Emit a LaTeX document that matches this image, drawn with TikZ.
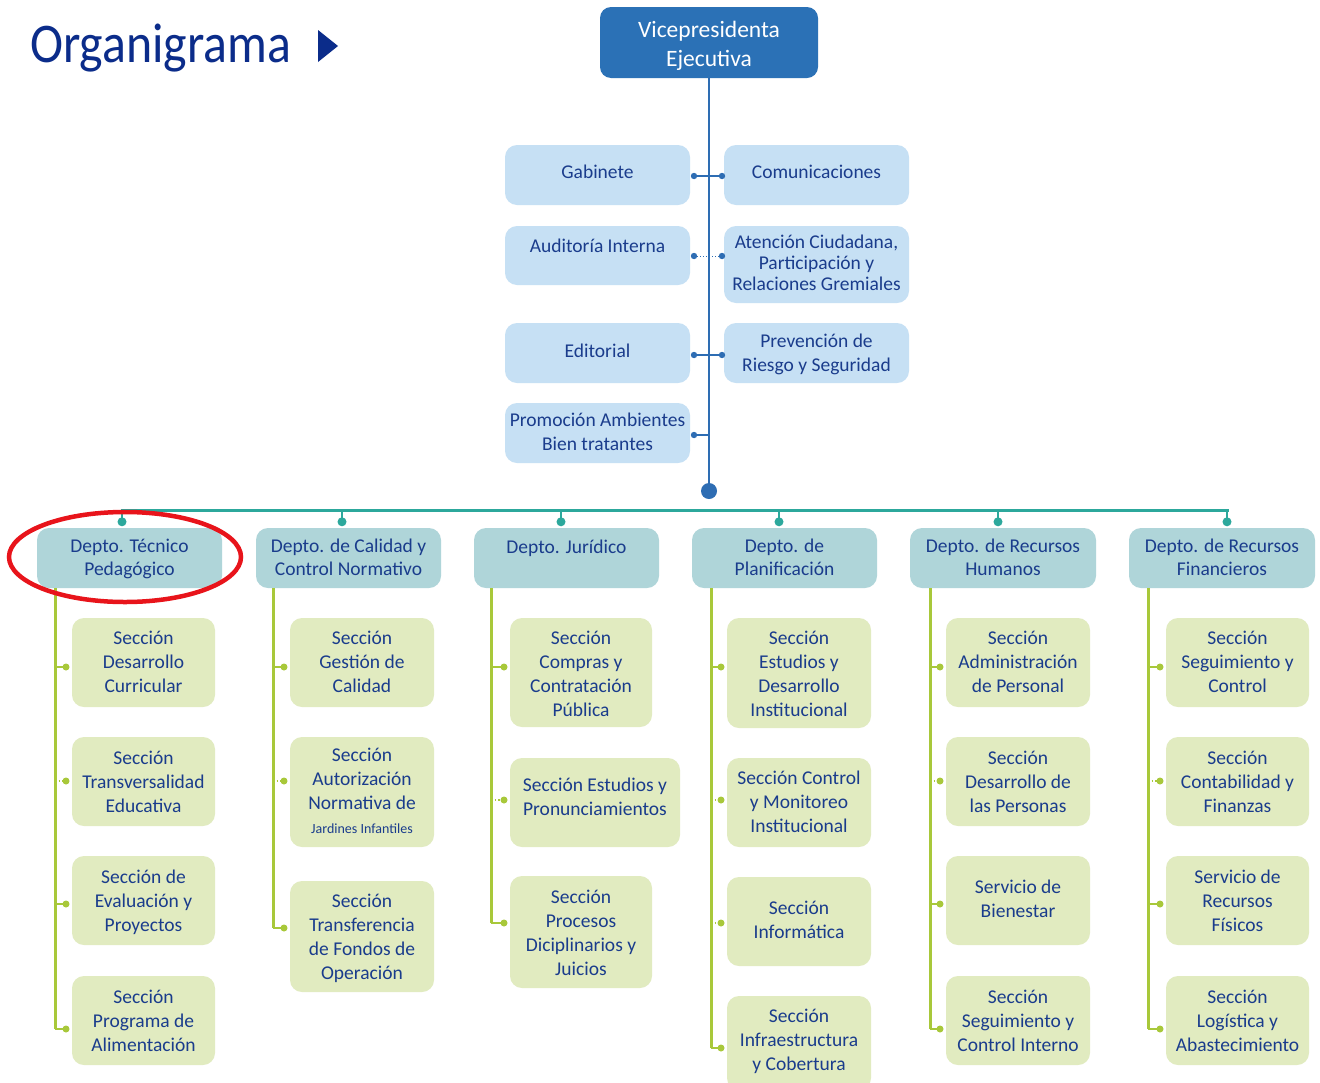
\documentclass[tikz,border=0pt]{standalone}
\usepackage{fontspec}
\setmainfont{Carlito}
\definecolor{titleblue}{HTML}{0B2C8A}
\definecolor{txtblue}{HTML}{1A3C8C}
\definecolor{vpblue}{HTML}{2B71B6}
\definecolor{lineblue}{HTML}{2E6DB3}
\definecolor{stafffill}{HTML}{C6E0F4}
\definecolor{tealc}{HTML}{2CA89C}
\definecolor{deptfill}{HTML}{AFD5D9}
\definecolor{greenc}{HTML}{A8C83A}
\definecolor{secfill}{HTML}{E1EBC0}
\definecolor{redring}{HTML}{E8141B}
\tikzset{
  boxbase/.style={draw=none, rounded corners=12pt, inner sep=0pt},
  vp/.style={boxbase, fill=vpblue, rounded corners=11pt},
  vptxt/.style={text=white, align=center, inner sep=0pt, font=\fontsize{23.5}{29}\selectfont, yshift=-4pt,
    execute at begin node=\strut, execute at end node=\strut},
  staff/.style={boxbase, fill=stafffill},
  stafftxt/.style={text=txtblue, align=center, inner sep=0pt, font=\fontsize{19.5}{24}\selectfont, yshift=-3pt,
    execute at begin node=\strut, execute at end node=\strut},
  dept/.style={boxbase, fill=deptfill},
  depttxt/.style={text=txtblue, align=center, inner sep=0pt, font=\fontsize{19.5}{23}\selectfont, yshift=-3pt,
    execute at begin node=\strut, execute at end node=\strut},
  sec/.style={boxbase, fill=secfill},
  sectxt/.style={text=txtblue, align=center, inner sep=0pt, font=\fontsize{19.5}{24}\selectfont, yshift=-3.5pt,
    execute at begin node=\strut, execute at end node=\strut},
  bline/.style={draw=lineblue, line width=2.5pt},
  bconn/.style={draw=lineblue, line width=2pt},
  bconndot/.style={draw=lineblue, line width=1pt, dotted},
  tline/.style={draw=tealc, line width=3pt},
  tdrop/.style={draw=tealc, line width=1.5pt},
  gline/.style={draw=greenc, line width=3pt},
  gconn/.style={draw=greenc, line width=2pt},
  gconndot/.style={draw=greenc, line width=1.5pt, dotted},
}
% #1 name, #2 style, #3 x1, #4 y1, #5 x2, #6 y2, #7 text y, #8 text
\newcommand\obox[8]{%
  \node[#2, minimum width={(#5-#3)*1pt}, minimum height={(#6-#4)*1pt}] (#1) at ({(#3+#5)/2},{(#4+#6)/2}) {};
  \node[#2txt] (#1t) at ({(#3+#5)/2},#7) {#8};
}
% section: #1 name, #2 x1, #3 y1, #4 x2, #5 y2, #6 text y, #7 connector y, #8 line coord, #9 text
\newcommand\secbox[9]{%
  \obox{#1}{sec}{#2}{#3}{#4}{#5}{#6}{#9}
  \coordinate (#1c) at ({#2-6},#7);
  \draw[gconn] (#8 |- #1c) -- (#1c);
  \fill[greenc] (#1c) circle (3.5);
}
\newcommand\secboxd[9]{%
  \obox{#1}{sec}{#2}{#3}{#4}{#5}{#6}{#9}
  \coordinate (#1c) at ({#2-6},#7);
  \draw[gconndot] (#8 |- #1c) -- (#1c);
  \fill[greenc] (#1c) circle (3.5);
}
\begin{document}
\begin{tikzpicture}[x=1pt,y=-1pt]
\useasboundingbox (0,0) rectangle (1320,1082);
\fill[white] (0,0) rectangle (1320,1082);

% title
\node[anchor=base west, inner sep=0pt, text=titleblue, font=\fontsize{56}{60}\selectfont, xscale=0.89] (title) at (30,62) {Organigrama};
\fill[titleblue] (318,30) -- (338,46) -- (318,62) -- cycle;

% top box
\obox{vp}{vp}{600}{7}{818}{78}{44}{Vicepresidenta\\Ejecutiva}
\coordinate (hub) at (709,491);
\draw[bline] (vp.south) -- (hub);
\fill[lineblue] (hub) circle (8);

% staff boxes
\obox{gab}{staff}{505}{145}{690}{205}{171}{Gabinete}
\obox{com}{staff}{724}{145}{909}{205}{171}{Comunicaciones}
\obox{aud}{staff}{505}{226}{690}{285}{245}{Auditoría Interna}
\node[staff, minimum width=185pt, minimum height=77pt] (ate) at (816.5,264.5) {};
\node[stafftxt, font=\fontsize{19.5}{21}\selectfont] (atet) at (816.5,263) {Atención Ciudadana,\\Participación y\\Relaciones Gremiales};
\obox{edi}{staff}{505}{323}{690}{383}{350}{Editorial}
\obox{pre}{staff}{724}{323}{909}{383}{353}{Prevención de\\Riesgo y Seguridad}
\obox{pro}{staff}{505}{403}{690}{463}{432}{Promoción Ambientes\\Bien tratantes}

% staff connectors
\coordinate (gabc) at (694,176); \coordinate (comc) at (722,176);
\coordinate (audc) at (694,256); \coordinate (atec) at (722,256);
\coordinate (edic) at (694,355); \coordinate (prec) at (722,355);
\coordinate (proc) at (694,435);
\draw[bconn] (gabc) -- (comc);
\draw[bconndot] (audc) -- (atec);
\draw[bconn] (edic) -- (prec);
\draw[bconn] (proc) -- (proc -| hub);
\foreach \c in {gabc,comc,audc,atec,edic,prec,proc} \fill[lineblue] (\c) circle (3.2);

% departments
\obox{d1}{dept}{37}{528}{222}{588}{558}{Depto. Técnico\\Pedagógico}
\obox{d2}{dept}{256}{528}{441}{588}{558}{Depto. de Calidad y\\Control Normativo}
\obox{d3}{dept}{474}{528}{659}{588}{546}{Depto. Jurídico}
\obox{d4}{dept}{692}{528}{877}{588}{558}{Depto. de\\Planificación}
\obox{d5}{dept}{910}{528}{1096}{588}{558}{Depto. de Recursos\\Humanos}
\obox{d6}{dept}{1129}{528}{1315}{588}{558}{Depto. de Recursos\\Financieros}

% teal bus
\coordinate (t1) at (122,510); \coordinate (t2) at (342,510); \coordinate (t3) at (561,510);
\coordinate (t4) at (779,510); \coordinate (t5) at (998,510); \coordinate (t6) at (1227,510);
\draw[tline] ([xshift=-1.5pt]t1) -- ([xshift=1.5pt]t6);
\foreach \i in {1,...,6} {
  \draw[tdrop] (t\i) -- ([yshift=6pt]t\i |- d\i.north);
  \fill[tealc] ([yshift=6pt]t\i |- d\i.north) circle (4.5);
}

% green department lines
\coordinate (g1) at (55,588); \coordinate (g2) at (273,588); \coordinate (g3) at (491,588);
\coordinate (g4) at (711,588); \coordinate (g5) at (930,588); \coordinate (g6) at (1148,588);

% column 1
\secbox{s11}{72}{618}{215}{707}{662}{667}{g1}{Sección\\Desarrollo\\Curricular}
\secboxd{s12}{72}{737}{215}{826}{782}{781}{g1}{Sección\\Transversalidad\\Educativa}
\secbox{s13}{72}{856}{215}{945}{901}{904}{g1}{Sección de\\Evaluación y\\Proyectos}
\secbox{s14}{72}{976}{215}{1065}{1021}{1029}{g1}{Sección\\Programa de\\Alimentación}
\draw[gline] (g1) -- (g1 |- s14c);
% column 2
\secbox{s21}{290}{618}{434}{707}{662}{667}{g2}{Sección\\Gestión de\\Calidad}
\secboxd{s22}{290}{737}{434}{847}{791}{781}{g2}{Sección\\Autorización\\Normativa de\\{\fontsize{14}{16}\selectfont Jardines Infantiles}}
\secbox{s23}{290}{881}{434}{992}{937}{928}{g2}{Sección\\Transferencia\\de Fondos de\\Operación}
\draw[gline] (g2) -- (g2 |- s23c);
% column 3
\secbox{s31}{510}{618}{652}{727}{674}{667}{g3}{Sección\\Compras y\\Contratación\\Pública}
\secboxd{s32}{510}{758}{680}{847}{797}{800}{g3}{Sección Estudios y\\Pronunciamientos}
\secbox{s33}{510}{876}{652}{988}{933}{923}{g3}{Sección\\Procesos\\Diciplinarios y\\Juicios}
\draw[gline] (g3) -- (g3 |- s33c);
% column 4
\secbox{s41}{727}{618}{871}{728}{674}{667}{g4}{Sección\\Estudios y\\Desarrollo\\Institucional}
\secboxd{s42}{727}{758}{871}{847}{802}{800}{g4}{Sección Control\\y Monitoreo\\Institucional}
\secboxd{s43}{727}{877}{871}{966}{920}{923}{g4}{Sección\\Informática}
\secbox{s44}{727}{996}{871}{1090}{1040}{1048}{g4}{Sección\\Infraestructura\\y Cobertura}
\draw[gline] (g4) -- (g4 |- s44c);
% column 5
\secbox{s51}{946}{618}{1090}{707}{662}{667}{g5}{Sección\\Administración\\de Personal}
\secboxd{s52}{946}{737}{1090}{826}{782}{781}{g5}{Sección\\Desarrollo de\\las Personas}
\secbox{s53}{946}{856}{1090}{945}{899}{904}{g5}{Servicio de\\Bienestar}
\secbox{s54}{946}{976}{1090}{1065}{1021}{1029}{g5}{Sección\\Seguimiento y\\Control Interno}
\draw[gline] (g5) -- (g5 |- s54c);
% column 6
\secbox{s61}{1166}{618}{1309}{707}{662}{667}{g6}{Sección\\Seguimiento y\\Control}
\secboxd{s62}{1166}{737}{1309}{826}{782}{781}{g6}{Sección\\Contabilidad y\\Finanzas}
\secbox{s63}{1166}{856}{1309}{945}{901}{904}{g6}{Servicio de\\Recursos\\Físicos}
\secbox{s64}{1166}{976}{1309}{1065}{1021}{1029}{g6}{Sección\\Logística y\\Abastecimiento}
\draw[gline] (g6) -- (g6 |- s64c);

% red highlight ring
\draw[redring, line width=4.5pt] (125,557) ellipse [x radius=116, y radius=45];
\end{tikzpicture}
\end{document}
